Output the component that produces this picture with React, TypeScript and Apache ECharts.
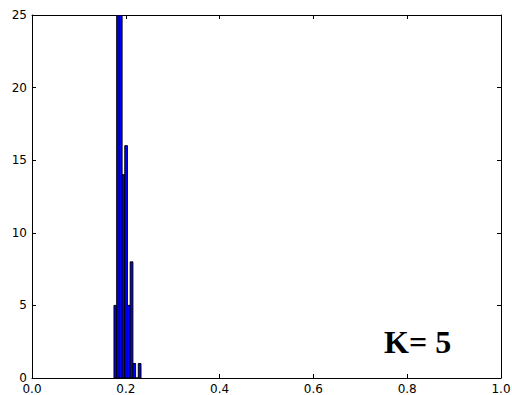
import React, { useEffect, useRef } from "react";
import * as echarts from "echarts";

// Histogram bins (matplotlib default 10 bins)
const binStart = 0.1748;
const binWidth = 0.00576;
const counts = [5, 25, 25, 14, 16, 5, 8, 1, 0, 1];
const xTicks = [0, 0.2, 0.4, 0.6, 0.8, 1.0];
const yTicks = [0, 5, 10, 15, 20, 25];
const annotation = "K= 5";

export default function App() {
  const ref = useRef<HTMLDivElement>(null);
  useEffect(() => {
    if (!ref.current) return;
    const chart = echarts.init(ref.current, undefined, { renderer: "svg" });
    const data = counts.map((c, i) => [binStart + i * binWidth, binStart + (i + 1) * binWidth, c]);
    const labelStyle = { color: "#000", fontFamily: "DejaVu Sans", fontSize: 12 };
    const tickCommon = { show: true, inside: true, length: 4, lineStyle: { color: "#000", width: 1 } };
    const lineCommon = { show: true, onZero: false, lineStyle: { color: "#000", width: 1 } };
    const xBase = {
      type: "value" as const,
      min: 0,
      max: 1,
      interval: 0.2,
      splitLine: { show: false },
      axisLine: lineCommon,
      axisTick: tickCommon,
    };
    const yBase = {
      type: "value" as const,
      min: 0,
      max: 25,
      interval: 5,
      splitLine: { show: false },
      axisLine: lineCommon,
      axisTick: tickCommon,
    };
    chart.setOption({
      animation: false,
      backgroundColor: "#fff",
      grid: { left: 32, right: 11, top: 15, bottom: 17, outerBoundsMode: "none" },
      xAxis: [
        {
          ...xBase,
          position: "bottom",
          axisLabel: {
            ...labelStyle,
            margin: 5,
            formatter: (v: number) => (xTicks.some((t) => Math.abs(t - v) < 1e-9) ? v.toFixed(1) : ""),
          },
        },
        { ...xBase, position: "top", axisLabel: { show: false } },
      ],
      yAxis: [
        {
          ...yBase,
          position: "left",
          axisLabel: {
            ...labelStyle,
            margin: 5,
            formatter: (v: number) => (yTicks.includes(v) ? String(v) : ""),
          },
        },
        { ...yBase, position: "right", axisLabel: { show: false } },
      ],
      series: [
        {
          type: "custom",
          xAxisIndex: 0,
          yAxisIndex: 0,
          clip: true,
          encode: { x: [0, 1], y: 2 },
          data,
          renderItem: (params: any, api: any) => {
            const p0 = api.coord([api.value(0), api.value(2)]);
            const p1 = api.coord([api.value(1), 0]);
            return {
              type: "rect",
              shape: { x: p0[0], y: p0[1], width: p1[0] - p0[0], height: p1[1] - p0[1] },
              style: { fill: "#0000ff", stroke: "#000", lineWidth: 1 },
            };
          },
        },
      ],
      graphic: [
        {
          type: "text",
          left: 384,
          top: 326,
          style: {
            text: annotation,
            font: "bold 32px 'Liberation Serif'",
            fill: "#000",
          },
        },
      ],
    });
    return () => chart.dispose();
  }, []);
  return (
    <div style={{ position: "fixed", left: 0, top: 0, width: 512, height: 395 }}>
      <div ref={ref} style={{ width: 512, height: 395 }} />
    </div>
  );
}
